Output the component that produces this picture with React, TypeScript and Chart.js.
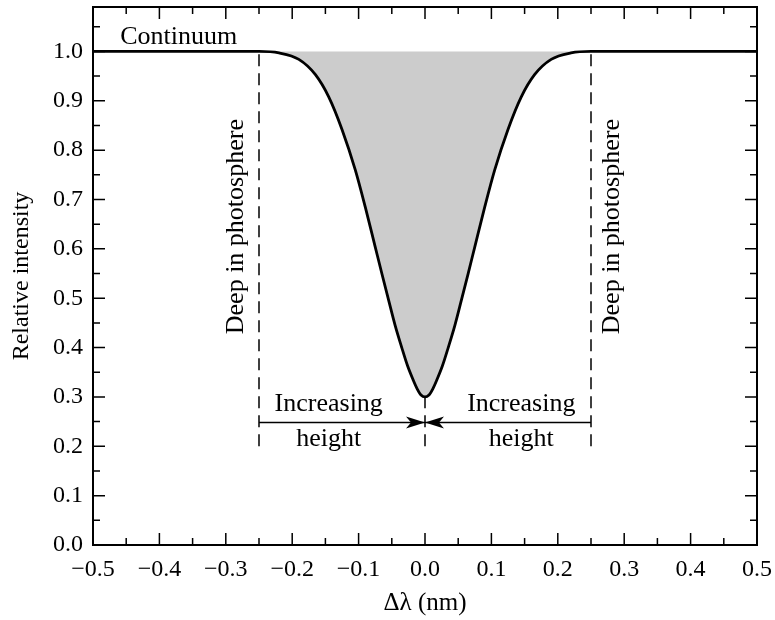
import React, { useEffect, useRef } from "react";
import { Chart, registerables } from "chart.js";

Chart.register(...registerables);

// Line profile (Δλ in nm, relative intensity)
const profileX = [-0.5, -0.3, -0.25, -0.22, -0.19, -0.165, -0.145, -0.125, -0.105, -0.09, -0.075, -0.065, -0.055, -0.045, -0.035, -0.026, -0.018, -0.012, -0.006, 0, 0.006, 0.012, 0.018, 0.026, 0.035, 0.045, 0.055, 0.065, 0.075, 0.09, 0.105, 0.125, 0.145, 0.165, 0.19, 0.22, 0.25, 0.3, 0.5];
const profileY = [1, 1, 1, 0.997, 0.984, 0.953, 0.908, 0.842, 0.76, 0.685, 0.604, 0.55, 0.497, 0.445, 0.4, 0.362, 0.335, 0.317, 0.304, 0.3, 0.304, 0.317, 0.335, 0.362, 0.4, 0.445, 0.497, 0.55, 0.604, 0.685, 0.76, 0.842, 0.908, 0.953, 0.984, 0.997, 1, 1, 1];

// Guide lines
const edgeX = [-0.25, 0.25];
const guideBottom = 0.2;
const continuumLevel = 1.0;
const coreLevel = 0.3;
const arrowLevel = 0.248;

// Axis ranges / ticks
const xMin = -0.5;
const xMax = 0.5;
const yMin = 0;
const yMax = 1.09;
const majorStep = 0.1;
const minorStep = 0.05;

// Text annotations
const continuumLabel = { text: "Continuum", x: -0.459, y: 1.016 };
const deepLabels = [
  { text: "Deep in photosphere", x: -0.285, y: 0.645 },
  { text: "Deep in photosphere", x: 0.282, y: 0.645 },
];
const heightLabels = [
  { top: "Increasing", bottom: "height", x: -0.145, yTop: 0.272, yBottom: 0.2 },
  { top: "Increasing", bottom: "height", x: 0.145, yTop: 0.272, yBottom: 0.2 },
];

const SERIF = "'Liberation Serif', 'DejaVu Serif', serif";

function fmt(v: number): string {
  if (Math.abs(v) < 1e-9) return "0.0";
  return (v < 0 ? "\u2212" : "") + Math.abs(v).toFixed(1);
}

const decorPlugin = {
  id: "decor",
  afterDraw(chart: any) {
    const { ctx, chartArea: a, scales } = chart;
    const xs = scales.x;
    const ys = scales.y;
    ctx.save();
    ctx.strokeStyle = "#000";
    // frame
    ctx.lineWidth = 2;
    ctx.strokeRect(a.left, a.top, a.right - a.left, a.bottom - a.top);
    // ticks
    ctx.lineWidth = 1.5;
    const nX = Math.round((xMax - xMin) / minorStep);
    for (let i = 0; i <= nX; i++) {
      const v = xMin + i * minorStep;
      const px = xs.getPixelForValue(v);
      const len = i % 2 === 0 ? 12 : 7;
      ctx.beginPath();
      ctx.moveTo(px, a.bottom);
      ctx.lineTo(px, a.bottom - len);
      ctx.moveTo(px, a.top);
      ctx.lineTo(px, a.top + len);
      ctx.stroke();
    }
    const nY = Math.floor((yMax - yMin) / minorStep + 1e-6);
    for (let i = 0; i <= nY; i++) {
      const v = yMin + i * minorStep;
      const py = ys.getPixelForValue(v);
      const len = i % 2 === 0 ? 12 : 7;
      ctx.beginPath();
      ctx.moveTo(a.left, py);
      ctx.lineTo(a.left + len, py);
      ctx.moveTo(a.right, py);
      ctx.lineTo(a.right - len, py);
      ctx.stroke();
    }
    // arrowheads
    const tipX = xs.getPixelForValue(0);
    const ay = ys.getPixelForValue(arrowLevel);
    ctx.fillStyle = "#000";
    [-1, 1].forEach((side) => {
      ctx.beginPath();
      ctx.moveTo(tipX, ay);
      ctx.lineTo(tipX + side * 19, ay - 6);
      ctx.lineTo(tipX + side * 14, ay);
      ctx.lineTo(tipX + side * 19, ay + 6);
      ctx.closePath();
      ctx.fill();
    });
    // texts
    ctx.fillStyle = "#000";
    ctx.font = `26px ${SERIF}`;
    ctx.textAlign = "left";
    ctx.textBaseline = "alphabetic";
    ctx.fillText(continuumLabel.text, xs.getPixelForValue(continuumLabel.x), ys.getPixelForValue(continuumLabel.y));
    ctx.textAlign = "center";
    heightLabels.forEach((h) => {
      const px = xs.getPixelForValue(h.x);
      ctx.fillText(h.top, px, ys.getPixelForValue(h.yTop));
      ctx.fillText(h.bottom, px, ys.getPixelForValue(h.yBottom));
    });
    ctx.textBaseline = "middle";
    deepLabels.forEach((d) => {
      ctx.save();
      ctx.translate(xs.getPixelForValue(d.x), ys.getPixelForValue(d.y));
      ctx.rotate(-Math.PI / 2);
      ctx.fillText(d.text, 0, 0);
      ctx.restore();
    });
    ctx.restore();
  },
};

function zeroPad(s: any) {
  s.paddingTop = 0;
  s.paddingBottom = 0;
  s.paddingLeft = 0;
  s.paddingRight = 0;
}

export default function App() {
  const ref = useRef<HTMLCanvasElement | null>(null);
  useEffect(() => {
    if (!ref.current) return;
    const profile = profileX.map((x, i) => ({ x, y: profileY[i] }));
    const dashed = { borderColor: "#000", borderWidth: 1.5, borderDash: [12, 7], pointRadius: 0, fill: false };
    const chart = new Chart(ref.current, {
      type: "line",
      data: {
        datasets: [
          {
            data: profile,
            borderColor: "#000",
            borderWidth: 2.8,
            backgroundColor: "#cccccc",
            fill: { value: continuumLevel },
            pointRadius: 0,
            cubicInterpolationMode: "monotone",
            order: 1,
          } as any,
          { ...dashed, data: [{ x: edgeX[0], y: guideBottom }, { x: edgeX[0], y: continuumLevel }] },
          { ...dashed, data: [{ x: edgeX[1], y: guideBottom }, { x: edgeX[1], y: continuumLevel }] },
          { ...dashed, data: [{ x: 0, y: guideBottom }, { x: 0, y: coreLevel }] },
          { borderColor: "#000", borderWidth: 1.5, pointRadius: 0, fill: false, data: [{ x: edgeX[0], y: arrowLevel }, { x: 0, y: arrowLevel }] },
          { borderColor: "#000", borderWidth: 1.5, pointRadius: 0, fill: false, data: [{ x: edgeX[1], y: arrowLevel }, { x: 0, y: arrowLevel }] },
        ],
      },
      options: {
        animation: false,
        responsive: false,
        layout: { padding: { left: 0, top: 7, right: 18, bottom: 0 } },
        plugins: { legend: { display: false }, tooltip: { enabled: false } },
        scales: {
          x: {
            type: "linear",
            min: xMin,
            max: xMax,
            grid: { display: false, drawTicks: false },
            border: { display: false },
            ticks: {
              stepSize: majorStep,
              color: "#000",
              font: { family: SERIF, size: 24 },
              padding: 10,
              maxRotation: 0,
              callback: (v: any) => fmt(Number(v)),
            },
            title: {
              display: true,
              text: "\u0394\u03bb (nm)",
              color: "#000",
              font: { family: SERIF, size: 25 },
              padding: { top: 0, bottom: 2 },
            },
            afterFit: (s: any) => {
              s.height = 75;
              zeroPad(s);
            },
          },
          y: {
            type: "linear",
            min: yMin,
            max: yMax,
            grid: { display: false, drawTicks: false },
            border: { display: false },
            ticks: {
              stepSize: majorStep,
              color: "#000",
              font: { family: SERIF, size: 24 },
              padding: 10,
              callback: (v: any) => fmt(Number(v)),
            },
            afterBuildTicks: (s: any) => {
              s.ticks = s.ticks.filter((t: any) => t.value <= 1.0001);
            },
            title: {
              display: true,
              text: "Relative intensity",
              color: "#000",
              font: { family: SERIF, size: 24 },
              padding: { top: 7, bottom: 0 },
            },
            afterFit: (s: any) => {
              s.width = 93;
              zeroPad(s);
            },
          },
        },
      } as any,
      plugins: [decorPlugin],
    });
    return () => chart.destroy();
  }, []);
  return (
    <div style={{ position: "absolute", left: 0, top: 0, width: 775, height: 620, background: "#fff" }}>
      <canvas ref={ref} width={775} height={620} style={{ display: "block" }} />
    </div>
  );
}
